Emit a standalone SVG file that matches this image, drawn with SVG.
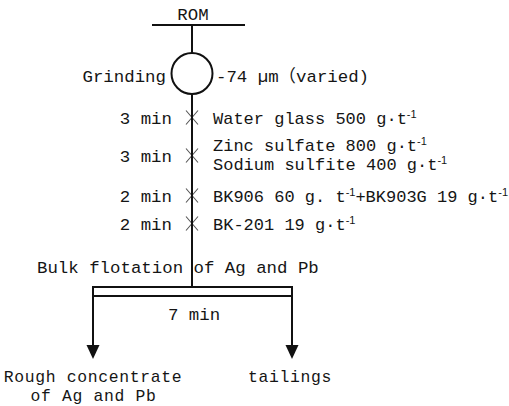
<svg xmlns="http://www.w3.org/2000/svg" width="509" height="406" viewBox="0 0 509 406">
  <defs>
    <style>
      .t { font-family: "Liberation Mono", "Noto Sans CJK SC", monospace; font-size: 17.4px; fill: #151515; }
      .r { font-size: 17px; }
      .p { font-size: 16.4px; letter-spacing: 0.65px; }
      .sup { font-family: "Liberation Sans", sans-serif; font-size: 11px; baseline-shift: 6px; }
      .ln { stroke: #111; stroke-width: 2; fill: none; }
      .mix { stroke: #555; stroke-width: 1.1; fill: none; }
      .ah { fill: #111; }
    </style>
    <path id="cross" class="mix" d="M-6,-7 L6,7 M6,-7 L-6,7"/>
  </defs>
  <rect width="509" height="406" fill="#fff"/>

  <!-- feed -->
  <g id="rom">
    <text class="t" x="193" y="20" text-anchor="middle">ROM</text>
    <line class="ln" x1="152" y1="25" x2="245" y2="25"/>
  </g>

  <!-- grinding mill -->
  <g id="grinding">
    <circle class="ln" cx="192" cy="73.5" r="20.5"/>
    <text class="t" x="166" y="82" text-anchor="end">Grinding</text>
    <text class="t" x="216" y="82">-74 µm（varied)</text>
  </g>

  <!-- conditioning stages -->
  <g id="stage-water-glass">
    <use href="#cross" x="192" y="117.5"/>
    <text class="t" x="172" y="124" text-anchor="end">3 min</text>
    <text class="t r" x="213" y="124">Water glass 500 g·t<tspan class="sup">-1</tspan></text>
  </g>
  <g id="stage-zinc-sodium">
    <use href="#cross" x="192" y="155.5"/>
    <text class="t" x="172" y="162" text-anchor="end">3 min</text>
    <text class="t r" x="213" y="151">Zinc sulfate 800 g·t<tspan class="sup">-1</tspan></text>
    <text class="t r" x="213" y="170">Sodium sulfite 400 g·t<tspan class="sup">-1</tspan></text>
  </g>
  <g id="stage-collectors">
    <use href="#cross" x="192" y="195.5"/>
    <text class="t" x="172" y="202" text-anchor="end">2 min</text>
    <text class="t r" x="213" y="202">BK906 60 g. t<tspan class="sup">-1</tspan>+BK903G 19 g·t<tspan class="sup">-1</tspan></text>
  </g>
  <g id="stage-frother">
    <use href="#cross" x="192" y="223.5"/>
    <text class="t" x="172" y="230" text-anchor="end">2 min</text>
    <text class="t r" x="213" y="230">BK-201 19 g·t<tspan class="sup">-1</tspan></text>
  </g>

  <!-- flotation cell -->
  <g id="bulk-flotation">
    <text class="t" x="37" y="273">Bulk flotation of Ag and Pb</text>
    <line class="ln" x1="92" y1="287" x2="293" y2="287"/>
    <line class="ln" x1="93" y1="296" x2="292" y2="296"/>
    <text class="t" x="194" y="320" text-anchor="middle">7 min</text>
  </g>

  <!-- products -->
  <g id="concentrate">
    <text class="t p" x="93" y="382" text-anchor="middle">Rough concentrate</text>
    <text class="t p" x="93.5" y="401" text-anchor="middle">of Ag and Pb</text>
  </g>
  <g id="tailings">
    <text class="t p" x="290" y="382" text-anchor="middle">tailings</text>
  </g>

  <!-- flow lines -->
  <g id="connectors">
    <line class="ln" x1="192" y1="25" x2="192" y2="53"/>
    <line class="ln" x1="192" y1="94" x2="192" y2="287"/>
    <line class="ln" x1="93" y1="287" x2="93" y2="347"/>
    <line class="ln" x1="292" y1="287" x2="292" y2="347"/>
    <polygon class="ah" points="86.5,345 99.5,345 93,359"/>
    <polygon class="ah" points="285.5,345 298.5,345 292,359"/>
  </g>
</svg>
